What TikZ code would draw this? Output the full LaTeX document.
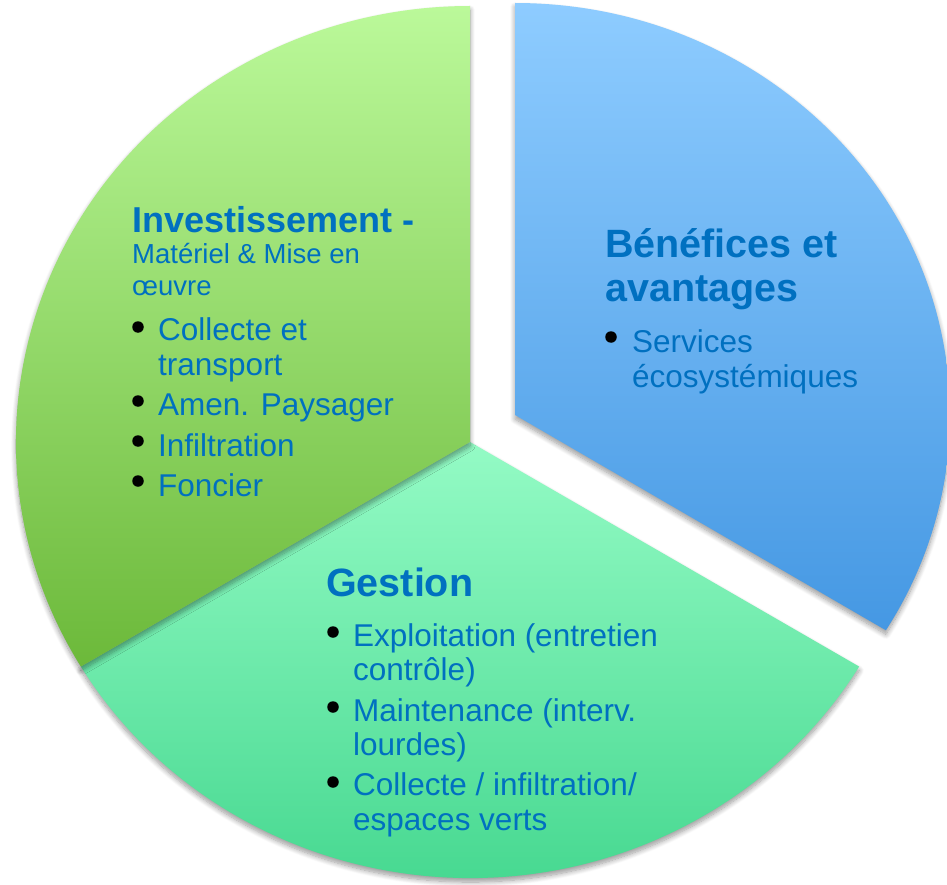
\documentclass[tikz,border=0pt]{standalone}
\usepackage{fontspec}
\setmainfont{Liberation Sans}
\usetikzlibrary{shadows.blur}
\definecolor{txt}{HTML}{0070C0}
\definecolor{greenT}{HTML}{BBF99A}
\definecolor{greenB}{HTML}{6CB93A}
\definecolor{mintT}{HTML}{94FBC5}
\definecolor{mintB}{HTML}{3DD48A}
\definecolor{blueT}{HTML}{8ECCFF}
\definecolor{blueB}{HTML}{4598E3}
\begin{document}
\begin{tikzpicture}[x=1pt,y=-1pt,
  sect/.style={blur shadow={shadow xshift=0pt,shadow yshift=-4pt,shadow blur radius=5pt,shadow blur steps=10,shadow opacity=40}},
  ttl/.style={anchor=base west,inner sep=0pt,text=txt,font=\fontsize{39.5}{43}\selectfont\bfseries},
  ttlsmall/.style={anchor=base west,inner sep=0pt,text=txt,font=\fontsize{36}{40}\selectfont\bfseries},
  sub/.style={anchor=base west,inner sep=0pt,text=txt,font=\fontsize{27.5}{31}\selectfont},
  itm/.style={anchor=base west,inner sep=0pt,text=txt,font=\fontsize{31.5}{35}\selectfont},
  dot/.style={circle,fill=black,inner sep=0pt,minimum size=11.5pt}]
\useasboundingbox (0,0) rectangle (947,885);
\coordinate (C) at (470,442);
\coordinate (B) at (515,415);
% Gestion sector
\path[sect,top color=mintT,bottom color=mintB]
  (C) -- ++(149:454 and 436) arc[start angle=149,end angle=31,x radius=454,y radius=436] -- cycle;
% Investissement sector
\path[sect,top color=greenT,bottom color=greenB]
  (C) -- ++(149:454 and 436) arc[start angle=149,end angle=270,x radius=454,y radius=436] -- cycle;
% Benefices sector (exploded)
\path[sect,top color=blueT,bottom color=blueB]
  (B) -- ++(-90:435 and 412) arc[start angle=-90,end angle=31.5,x radius=435,y radius=412] -- cycle;

% Investissement text
\node[ttlsmall] (i0) at (132,233) {Investissement -};
\node[sub] (i1) at (132,264) {Matériel \& Mise en};
\node[sub] (i2) at (132,295) {œuvre};
\node[dot] (id1) at (138,327) {};
\node[itm] (i3) at (158,340) {Collecte et};
\node[itm] (i4) at (158,375) {transport};
\node[dot] (id2) at (138,401) {};
\node[itm] (i5) at (158,415) {Amen. Paysager};
\node[dot] (id3) at (138,441) {};
\node[itm] (i6) at (158,456) {Infiltration};
\node[dot] (id4) at (138,481) {};
\node[itm] (i7) at (158,496) {Foncier};

% Benefices text
\node[ttl] (b0) at (605,258) {Bénéfices et};
\node[ttl] (b1) at (605,301) {avantages};
\node[dot] (bd1) at (611,337) {};
\node[itm] (b2) at (632,352) {Services};
\node[itm] (b3) at (632,387) {écosystémiques};

% Gestion text
\node[ttl] (g0) at (326,596) {Gestion};
\node[dot] (gd1) at (333,632) {};
\node[itm] (g1) at (353,646) {Exploitation (entretien};
\node[itm] (g2) at (353,680) {contrôle)};
\node[dot] (gd2) at (333,707) {};
\node[itm] (g3) at (353,721) {Maintenance (interv.};
\node[itm] (g4) at (353,755) {lourdes)};
\node[dot] (gd3) at (333,782) {};
\node[itm] (g5) at (353,795) {Collecte / infiltration/};
\node[itm] (g6) at (353,830) {espaces verts};
\end{tikzpicture}
\end{document}
